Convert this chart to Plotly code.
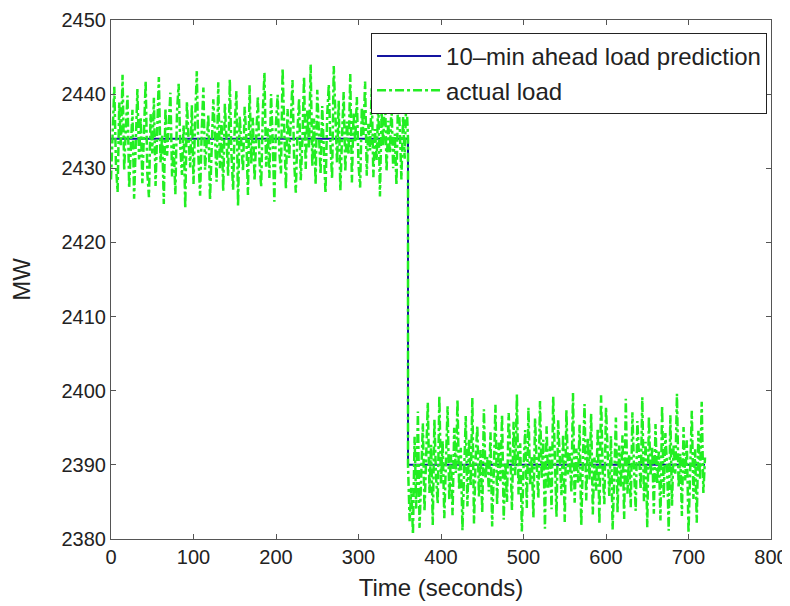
import plotly.graph_objects as go

# Prediction (step) values
pred_time = [0, 360, 360, 720]
pred_mw = [2434, 2434, 2390, 2390]

# Actual load, sampled every 2 seconds, first interval 0..360 s
upper_time = list(range(0, 361, 2))
upper_mw = [
    2428.5, 2436.2, 2441.0, 2430.4, 2426.8, 2438.9, 2433.1, 2442.6, 2429.7, 2435.5,
    2439.8, 2427.3, 2432.6, 2437.9, 2425.9, 2434.8, 2440.7, 2431.2, 2436.9, 2428.0,
    2433.9, 2441.8, 2429.4, 2426.1, 2437.3, 2432.0, 2439.5, 2427.6, 2435.1, 2442.3,
    2430.8, 2434.4, 2425.2, 2438.1, 2431.7, 2436.0, 2440.2, 2428.9, 2433.3, 2426.5,
    2437.6, 2441.4, 2432.9, 2429.1, 2435.8, 2424.6, 2439.0, 2434.0, 2430.1, 2438.5,
    2427.9, 2436.6, 2443.1, 2431.5, 2426.3, 2435.2, 2440.9, 2429.8, 2433.6, 2437.2,
    2425.7, 2432.3, 2439.3, 2434.6, 2428.2, 2441.6, 2430.0, 2436.4, 2426.9, 2438.7,
    2433.4, 2429.0, 2442.0, 2431.9, 2427.1, 2435.9, 2440.4, 2424.9, 2437.0, 2432.5,
    2429.6, 2438.3, 2434.2, 2426.4, 2441.2, 2430.6, 2436.8, 2428.3, 2433.0, 2439.7,
    2431.0, 2427.5, 2437.4, 2442.9, 2430.2, 2435.4, 2428.7, 2440.0, 2433.8, 2425.5,
    2436.1, 2439.9, 2432.2, 2429.3, 2443.5, 2434.3, 2427.2, 2438.0, 2431.4, 2436.5,
    2441.9, 2430.9, 2426.7, 2435.0, 2439.4, 2428.4, 2433.7, 2442.4, 2429.9, 2437.8,
    2432.8, 2444.0, 2430.3, 2436.7, 2427.8, 2440.6, 2434.9, 2429.2, 2438.4, 2431.6,
    2426.6, 2437.1, 2441.3, 2433.2, 2428.6, 2443.8, 2435.7, 2430.7, 2439.1, 2427.0,
    2434.1, 2440.3, 2429.5, 2436.3, 2431.8, 2442.7, 2428.1, 2437.5, 2433.5, 2439.6,
    2430.5, 2427.4, 2438.2, 2434.5, 2441.7, 2429.0, 2436.0, 2432.4, 2440.8, 2428.8,
    2435.3, 2431.1, 2439.2, 2426.2, 2437.7, 2433.0, 2441.1, 2429.6, 2436.4, 2432.1,
    2438.6, 2430.0, 2434.7, 2427.7, 2440.1, 2435.6, 2428.5, 2437.0, 2431.3, 2439.8,
    2434.0,
]

# Second interval 360..720 s
lower_time = list(range(360, 721, 2))
lower_mw = [
    2390.0, 2382.4, 2386.9, 2380.6, 2393.8, 2384.1, 2397.2, 2381.5, 2389.3, 2395.6,
    2383.7, 2391.9, 2398.4, 2386.2, 2392.7, 2381.9, 2396.1, 2388.4, 2384.8, 2399.3,
    2387.5, 2393.2, 2382.8, 2390.6, 2397.9, 2385.3, 2391.4, 2383.2, 2395.0, 2388.9,
    2398.8, 2386.6, 2392.3, 2381.2, 2389.7, 2396.6, 2384.4, 2393.5, 2387.1, 2399.0,
    2382.1, 2390.9, 2395.3, 2385.7, 2392.0, 2383.5, 2397.5, 2388.1, 2391.1, 2386.4,
    2394.4, 2381.7, 2389.0, 2398.1, 2384.6, 2393.0, 2387.8, 2396.8, 2382.6, 2390.3,
    2385.0, 2397.0, 2391.7, 2383.9, 2395.8, 2388.6, 2399.5, 2386.0, 2392.9, 2381.0,
    2389.5, 2394.7, 2384.2, 2397.7, 2387.3, 2391.2, 2382.9, 2396.3, 2390.1, 2385.5,
    2398.6, 2388.2, 2393.4, 2381.4, 2395.2, 2386.8, 2392.5, 2384.0, 2399.2, 2389.8,
    2383.0, 2396.0, 2390.4, 2385.9, 2394.1, 2382.3, 2397.4, 2388.7, 2391.6, 2386.3,
    2399.7, 2384.9, 2392.2, 2387.6, 2395.4, 2381.8, 2390.7, 2398.2, 2385.2, 2393.6,
    2388.0, 2396.9, 2383.3, 2391.0, 2386.5, 2394.9, 2382.0, 2399.4, 2389.1, 2384.7,
    2397.8, 2390.2, 2385.8, 2393.9, 2381.3, 2388.3, 2396.4, 2383.6, 2392.6, 2387.0,
    2394.0, 2382.7, 2398.9, 2386.1, 2391.3, 2384.3, 2397.1, 2389.4, 2383.8, 2395.9,
    2390.5, 2386.7, 2399.1, 2385.1, 2393.1, 2381.6, 2396.5, 2388.5, 2392.4, 2383.4,
    2395.5, 2387.4, 2391.8, 2382.5, 2398.0, 2385.6, 2394.3, 2389.9, 2381.1, 2396.7,
    2384.5, 2392.8, 2388.8, 2399.6, 2386.9, 2391.5, 2383.1, 2395.1, 2387.9, 2393.3,
    2380.8, 2389.6, 2397.3, 2385.4, 2392.1, 2382.2, 2394.6, 2388.0, 2398.5, 2386.2,
    2391.0,
]

x_ticks = [0, 100, 200, 300, 400, 500, 600, 700, 800]
y_ticks = [2380, 2390, 2400, 2410, 2420, 2430, 2440, 2450]

FONT = "Liberation Sans, Arial, Helvetica, sans-serif"

fig = go.Figure()
fig.add_trace(go.Scatter(
    x=pred_time, y=pred_mw, mode="lines",
    name="10\u2013min ahead load prediction",
    line=dict(color="#1414a0", width=2),
    legendgroup="a",
))
fig.add_trace(go.Scatter(
    x=upper_time + lower_time, y=upper_mw + lower_mw, mode="lines",
    name="actual load",
    line=dict(color="#22ee22", width=2.5, dash="dashdot"),
    legendgroup="b",
))

axis_common = dict(
    showline=True, mirror="ticks", linecolor="#555555", linewidth=1,
    ticks="inside", ticklen=5, tickcolor="#555555",
    showgrid=False, zeroline=False, automargin=False,
    ticklabeloverflow="allow",
    tickfont=dict(family=FONT, size=20, color="#222222"),
)

fig.update_layout(
    width=790, height=606,
    margin=dict(l=103, r=27, t=12, b=75),
    paper_bgcolor="white", plot_bgcolor="white",
    font=dict(family=FONT, color="#222222"),
    xaxis=dict(range=[0, 800], tickvals=x_ticks,
               title=dict(text="Time (seconds)", font=dict(family=FONT, size=24), standoff=12),
               **axis_common),
    yaxis=dict(range=[2380, 2450], tickvals=y_ticks,
               title=dict(text="MW", font=dict(family=FONT, size=24), standoff=24),
               **axis_common),
    legend=dict(
        x=0.994, y=0.975, xanchor="right", yanchor="top",
        bgcolor="white", bordercolor="#222222", borderwidth=1,
        font=dict(family=FONT, size=24, color="#222222"),
        tracegroupgap=0, itemwidth=64,
    ),
    showlegend=True,
)

fig.write_html("out.html")
